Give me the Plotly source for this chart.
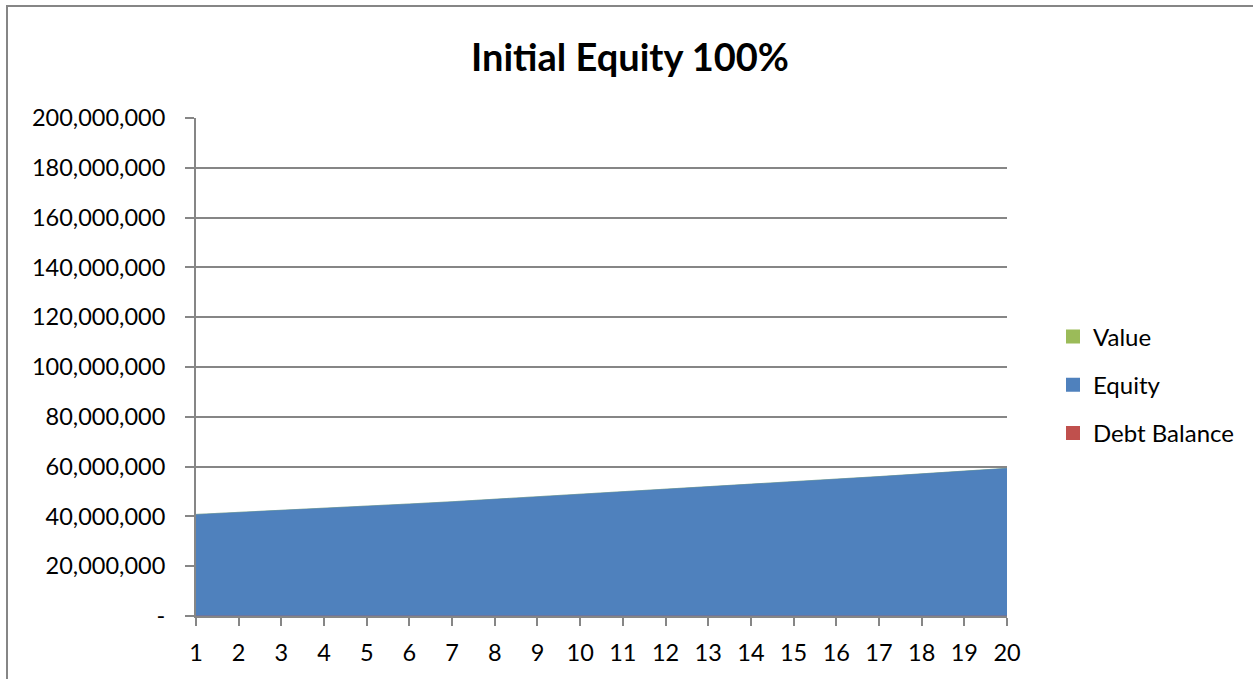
import plotly.graph_objects as go

years = list(range(1, 21))
equity = [40.8, 41.6, 42.4, 43.3, 44.2, 45.0, 45.9, 46.9, 47.8, 48.8,
          49.7, 50.7, 51.7, 52.8, 53.8, 54.9, 56.0, 57.1, 58.2, 59.3]
equity = [v * 1e6 for v in equity]
value = list(equity)
debt = [0] * 20

tick_vals = [0, 20e6, 40e6, 60e6, 80e6, 100e6, 120e6, 140e6, 160e6, 180e6, 200e6]
tick_text = ["-", "20,000,000", "40,000,000", "60,000,000", "80,000,000", "100,000,000",
             "120,000,000", "140,000,000", "160,000,000", "180,000,000", "200,000,000"]

GREEN = "#9BBB59"
BLUE = "#4F81BD"
RED = "#C0504D"
GRAY = "#868686"
FONT = "Lato"

fig = go.Figure()
series = [("Value", value, GREEN), ("Equity", equity, BLUE), ("Debt Balance", debt, RED)]
for name, ys, col in series:
    fig.add_trace(go.Scatter(x=years, y=ys, mode="lines", fill="tozeroy",
                             fillcolor=col, line=dict(width=0.5, color=col),
                             name=name, legendgroup=name, showlegend=False,
                             hoverinfo="x+y+name"))
for name, ys, col in series:
    fig.add_trace(go.Scatter(x=[None], y=[None], mode="markers", name=name,
                             legendgroup=name,
                             marker=dict(symbol="square", size=14, color=col)))

fig.update_layout(
    width=1253, height=679,
    margin=dict(l=196, r=246, t=118, b=63),
    paper_bgcolor="white", plot_bgcolor="white",
    font=dict(family=FONT, color="black", size=23.5),
    title=dict(text="<b>Initial Equity 100%</b>", x=630 / 1253, xanchor="center",
               y=1 - 58 / 679, yanchor="middle",
               font=dict(family=FONT, size=38, color="black")),
    showlegend=True,
    legend=dict(x=(1053 - 196) / 811, xanchor="left", y=(616 - 385) / 498, yanchor="middle",
                traceorder="grouped", tracegroupgap=14,
                font=dict(family=FONT, size=24, color="black"),
                itemwidth=30, bgcolor="rgba(0,0,0,0)"),
    xaxis=dict(range=[1, 20], tickvals=years, ticktext=[str(y) for y in years],
               showgrid=False, showline=True, linecolor=GRAY, linewidth=2,
               ticks="outside", ticklen=8, tickwidth=2, tickcolor=GRAY,
               ticklabelstandoff=7, zeroline=False, fixedrange=True),
    yaxis=dict(range=[0, 200e6], tickvals=tick_vals, ticktext=tick_text,
               showgrid=True, gridcolor=GRAY, gridwidth=2,
               showline=True, linecolor=GRAY, linewidth=2,
               ticks="outside", ticklen=9, tickwidth=2, tickcolor=GRAY,
               ticklabelstandoff=15, zeroline=False, fixedrange=True),
    shapes=[dict(type="rect", xref="paper", yref="paper",
                 x0=(7 - 196) / 811, x1=1.5, y0=-0.5, y1=(616 - 6) / 498,
                 line=dict(color=GRAY, width=2), fillcolor="rgba(0,0,0,0)",
                 layer="below")],
)

fig.write_html("out.html")
